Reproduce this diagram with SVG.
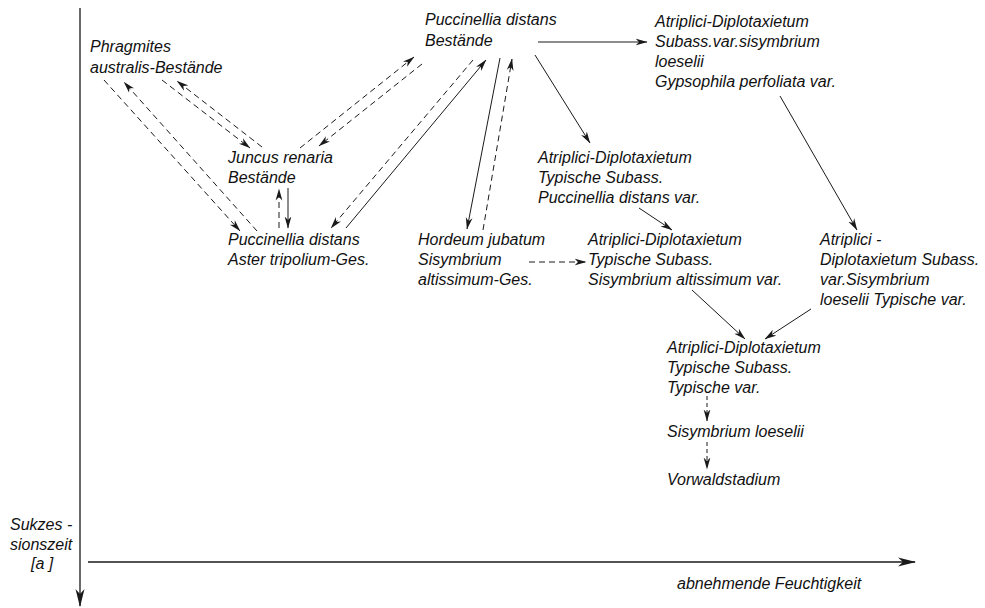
<svg xmlns="http://www.w3.org/2000/svg" width="985" height="608" viewBox="0 0 985 608">
<style>
text{font-family:"Liberation Sans",Arial,sans-serif;font-style:italic;font-size:16px;fill:#111111}
.s{stroke:#1a1a1a;stroke-width:1;fill:none}
.d{stroke:#1a1a1a;stroke-width:1;fill:none;stroke-dasharray:6,4}
.ds{stroke:#1a1a1a;stroke-width:1;fill:none;stroke-dasharray:4,3}
.ax{stroke:#1a1a1a;stroke-width:1.3;fill:none}
</style>
<defs>
<marker id="ah" viewBox="0 0 12 8" refX="11.5" refY="4" markerWidth="12" markerHeight="8" markerUnits="userSpaceOnUse" orient="auto">
<path d="M0,0.6 L12,4 L0,7.4 L3.5,4 Z" fill="#1a1a1a"/>
</marker>
<marker id="ahx" viewBox="0 0 18 10" refX="17" refY="5" markerWidth="18" markerHeight="10" markerUnits="userSpaceOnUse" orient="auto">
<path d="M0,0.5 L18,5 L0,9.5 L5,5 Z" fill="#1a1a1a"/>
</marker>
</defs>
<rect width="985" height="608" fill="#ffffff"/>

<g id="axes">
<line class="ax" x1="80" y1="8" x2="80" y2="606" marker-end="url(#ahx)"/>
<line class="ax" x1="88" y1="562" x2="915" y2="562" marker-end="url(#ahx)"/>
</g>

<g id="connectors">
<line class="d" x1="162" y1="80" x2="250" y2="148" marker-end="url(#ah)"/>
<line class="d" x1="262" y1="147" x2="177" y2="81" marker-end="url(#ah)"/>
<line class="d" x1="104" y1="80" x2="240" y2="231" marker-end="url(#ah)"/>
<line class="d" x1="257" y1="231" x2="124" y2="82" marker-end="url(#ah)"/>
<line class="d" x1="279" y1="228" x2="279" y2="189" marker-end="url(#ah)"/>
<line class="s" x1="288" y1="188" x2="288" y2="228" marker-end="url(#ah)"/>
<line class="d" x1="300" y1="148" x2="414" y2="57" marker-end="url(#ah)"/>
<line class="d" x1="422" y1="64" x2="319" y2="146" marker-end="url(#ah)"/>
<line class="d" x1="473" y1="60" x2="331" y2="228" marker-end="url(#ah)"/>
<line class="s" x1="346" y1="228" x2="486" y2="60" marker-end="url(#ah)"/>
<line class="s" x1="500" y1="58" x2="467" y2="229" marker-end="url(#ah)"/>
<line class="d" x1="483" y1="230" x2="512" y2="59" marker-end="url(#ah)"/>
<line class="s" x1="538" y1="42" x2="647" y2="42" marker-end="url(#ah)"/>
<line class="s" x1="535" y1="55" x2="590" y2="143" marker-end="url(#ah)"/>
<line class="s" x1="780" y1="96" x2="857" y2="230" marker-end="url(#ah)"/>
<line class="s" x1="639" y1="208" x2="672" y2="230" marker-end="url(#ah)"/>
<line class="d" x1="529" y1="262" x2="586" y2="262" marker-end="url(#ah)"/>
<line class="s" x1="692" y1="290" x2="745" y2="339" marker-end="url(#ah)"/>
<line class="s" x1="811" y1="309" x2="765" y2="339" marker-end="url(#ah)"/>
<line class="ds" x1="707" y1="396" x2="707" y2="421" marker-end="url(#ah)"/>
<line class="ds" x1="707" y1="442" x2="707" y2="469" marker-end="url(#ah)"/>
</g>

<g id="n-phragmites"><text x="90" y="52">Phragmites</text><text x="90" y="73">australis-Bestände</text></g>
<g id="n-puccinellia-bestaende"><text x="425" y="25">Puccinellia distans</text><text x="425" y="46">Bestände</text></g>
<g id="n-atriplici-gypsophila"><text x="655" y="27">Atriplici-Diplotaxietum</text><text x="655" y="47">Subass.var.sisymbrium</text><text x="655" y="67">loeselii</text><text x="655" y="87">Gypsophila perfoliata var.</text></g>
<g id="n-juncus"><text x="228" y="163">Juncus renaria</text><text x="228" y="183">Bestände</text></g>
<g id="n-atriplici-puccinellia"><text x="538" y="163">Atriplici-Diplotaxietum</text><text x="538" y="183">Typische Subass.</text><text x="538" y="203">Puccinellia distans var.</text></g>
<g id="n-puccinellia-aster"><text x="228" y="245">Puccinellia distans</text><text x="228" y="265">Aster tripolium-Ges.</text></g>
<g id="n-hordeum"><text x="418" y="245">Hordeum jubatum</text><text x="418" y="265">Sisymbrium</text><text x="418" y="285">altissimum-Ges.</text></g>
<g id="n-atriplici-altissimum"><text x="588" y="245">Atriplici-Diplotaxietum</text><text x="588" y="265">Typische Subass.</text><text x="588" y="285">Sisymbrium altissimum var.</text></g>
<g id="n-atriplici-loeselii"><text x="820" y="245">Atriplici -</text><text x="820" y="265">Diplotaxietum Subass.</text><text x="820" y="285">var.Sisymbrium</text><text x="820" y="305">loeselii Typische var.</text></g>
<g id="n-atriplici-typische"><text x="667" y="353">Atriplici-Diplotaxietum</text><text x="667" y="373">Typische Subass.</text><text x="667" y="393">Typische var.</text></g>
<g id="n-sisymbrium-loeselii"><text x="667" y="437">Sisymbrium loeselii</text></g>
<g id="n-vorwald"><text x="667" y="485">Vorwaldstadium</text></g>
<g id="labels">
<text x="10" y="530">Sukzes -</text>
<text x="10" y="550">sionszeit</text>
<text x="31" y="569">[a ]</text>
<text x="677" y="589">abnehmende Feuchtigkeit</text>
</g>
</svg>
